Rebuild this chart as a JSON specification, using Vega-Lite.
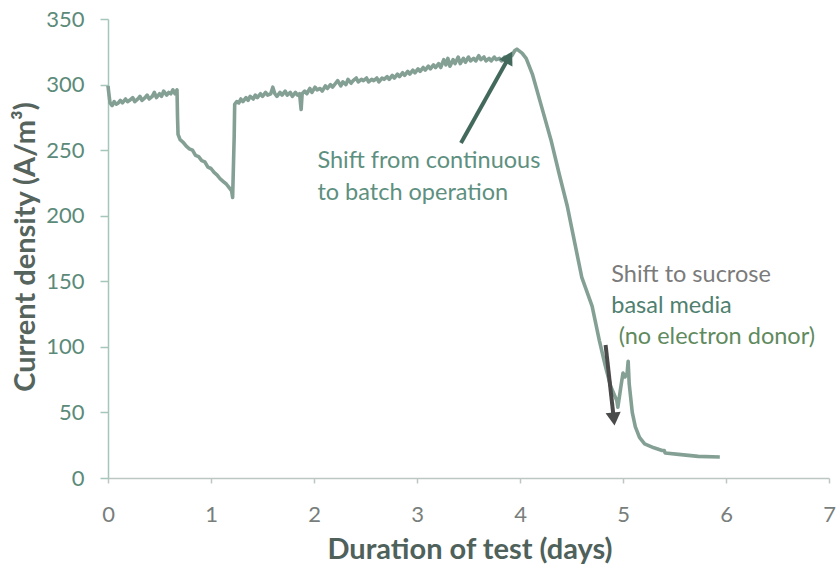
{
  "$schema": "https://vega.github.io/schema/vega-lite/v6.json",
  "width": 721,
  "height": 459,
  "autosize": {"type": "none"},
  "padding": {"left": 108, "top": 19, "right": 7, "bottom": 87},
  "background": "white",
  "config": {"view": {"stroke": null}, "font": "Lato"},
  "datasets": {
    "series": [
      {"day": 0, "current": 299}, {"day": 0.01, "current": 292}, {"day": 0.02, "current": 286}, {"day": 0.04, "current": 284},
      {"day": 0.06, "current": 287}, {"day": 0.08, "current": 285}, {"day": 0.10, "current": 286}, {"day": 0.12, "current": 288},
      {"day": 0.14, "current": 286}, {"day": 0.17, "current": 289}, {"day": 0.19, "current": 287}, {"day": 0.21, "current": 288},
      {"day": 0.24, "current": 290}, {"day": 0.26, "current": 287}, {"day": 0.29, "current": 289}, {"day": 0.31, "current": 291},
      {"day": 0.33, "current": 288}, {"day": 0.36, "current": 290}, {"day": 0.38, "current": 292}, {"day": 0.40, "current": 289},
      {"day": 0.43, "current": 291}, {"day": 0.45, "current": 294}, {"day": 0.47, "current": 290}, {"day": 0.50, "current": 293},
      {"day": 0.52, "current": 291}, {"day": 0.54, "current": 295}, {"day": 0.57, "current": 292}, {"day": 0.59, "current": 294},
      {"day": 0.61, "current": 293}, {"day": 0.63, "current": 296}, {"day": 0.65, "current": 293}, {"day": 0.67, "current": 296},
      {"day": 0.675, "current": 275}, {"day": 0.68, "current": 262}, {"day": 0.70, "current": 258},
      {"day": 0.73, "current": 256}, {"day": 0.76, "current": 253}, {"day": 0.79, "current": 251}, {"day": 0.82, "current": 250},
      {"day": 0.85, "current": 246}, {"day": 0.88, "current": 245}, {"day": 0.91, "current": 242}, {"day": 0.94, "current": 241},
      {"day": 0.97, "current": 237}, {"day": 1.00, "current": 236}, {"day": 1.03, "current": 233}, {"day": 1.06, "current": 231},
      {"day": 1.09, "current": 228}, {"day": 1.12, "current": 226}, {"day": 1.15, "current": 224}, {"day": 1.18, "current": 221},
      {"day": 1.20, "current": 219}, {"day": 1.21, "current": 214}, {"day": 1.225, "current": 260}, {"day": 1.23, "current": 285},
      {"day": 1.25, "current": 287}, {"day": 1.27, "current": 286}, {"day": 1.29, "current": 289}, {"day": 1.31, "current": 287},
      {"day": 1.34, "current": 290}, {"day": 1.36, "current": 288}, {"day": 1.38, "current": 291}, {"day": 1.41, "current": 289},
      {"day": 1.43, "current": 292}, {"day": 1.45, "current": 290}, {"day": 1.48, "current": 293}, {"day": 1.50, "current": 291},
      {"day": 1.53, "current": 294}, {"day": 1.55, "current": 292}, {"day": 1.58, "current": 293}, {"day": 1.60, "current": 298},
      {"day": 1.62, "current": 293}, {"day": 1.64, "current": 291}, {"day": 1.67, "current": 294}, {"day": 1.69, "current": 292},
      {"day": 1.72, "current": 295}, {"day": 1.74, "current": 292}, {"day": 1.77, "current": 294}, {"day": 1.79, "current": 291},
      {"day": 1.82, "current": 294}, {"day": 1.84, "current": 292}, {"day": 1.86, "current": 293}, {"day": 1.875, "current": 281},
      {"day": 1.885, "current": 293}, {"day": 1.91, "current": 295}, {"day": 1.93, "current": 293}, {"day": 1.96, "current": 297},
      {"day": 1.98, "current": 294}, {"day": 2.01, "current": 298}, {"day": 2.03, "current": 296}, {"day": 2.06, "current": 297},
      {"day": 2.08, "current": 295}, {"day": 2.11, "current": 299}, {"day": 2.13, "current": 297}, {"day": 2.16, "current": 300},
      {"day": 2.18, "current": 298}, {"day": 2.21, "current": 301}, {"day": 2.23, "current": 303}, {"day": 2.26, "current": 299},
      {"day": 2.28, "current": 302}, {"day": 2.31, "current": 300}, {"day": 2.33, "current": 304}, {"day": 2.36, "current": 301},
      {"day": 2.38, "current": 303}, {"day": 2.41, "current": 305}, {"day": 2.43, "current": 302}, {"day": 2.46, "current": 304},
      {"day": 2.48, "current": 303}, {"day": 2.51, "current": 305}, {"day": 2.53, "current": 302}, {"day": 2.56, "current": 304},
      {"day": 2.58, "current": 303}, {"day": 2.61, "current": 305}, {"day": 2.63, "current": 302}, {"day": 2.66, "current": 305},
      {"day": 2.68, "current": 304}, {"day": 2.71, "current": 306}, {"day": 2.73, "current": 304}, {"day": 2.76, "current": 307},
      {"day": 2.78, "current": 305}, {"day": 2.81, "current": 308}, {"day": 2.83, "current": 306}, {"day": 2.86, "current": 309},
      {"day": 2.88, "current": 307}, {"day": 2.91, "current": 310}, {"day": 2.93, "current": 308}, {"day": 2.96, "current": 311},
      {"day": 2.98, "current": 309}, {"day": 3.01, "current": 312}, {"day": 3.03, "current": 310}, {"day": 3.06, "current": 313},
      {"day": 3.08, "current": 311}, {"day": 3.11, "current": 314}, {"day": 3.13, "current": 312}, {"day": 3.16, "current": 315},
      {"day": 3.18, "current": 313}, {"day": 3.21, "current": 316}, {"day": 3.23, "current": 313}, {"day": 3.26, "current": 319},
      {"day": 3.28, "current": 315}, {"day": 3.30, "current": 320}, {"day": 3.32, "current": 314}, {"day": 3.35, "current": 319},
      {"day": 3.37, "current": 316}, {"day": 3.40, "current": 321}, {"day": 3.42, "current": 316}, {"day": 3.45, "current": 320},
      {"day": 3.47, "current": 317}, {"day": 3.50, "current": 321}, {"day": 3.52, "current": 318}, {"day": 3.55, "current": 320},
      {"day": 3.57, "current": 318}, {"day": 3.60, "current": 322}, {"day": 3.62, "current": 319}, {"day": 3.65, "current": 321},
      {"day": 3.67, "current": 318}, {"day": 3.70, "current": 320}, {"day": 3.72, "current": 318}, {"day": 3.75, "current": 321},
      {"day": 3.77, "current": 319}, {"day": 3.80, "current": 320}, {"day": 3.82, "current": 318}, {"day": 3.85, "current": 321},
      {"day": 3.87, "current": 319}, {"day": 3.90, "current": 321}, {"day": 3.92, "current": 322},
      {"day": 3.95, "current": 326}, {"day": 3.97, "current": 327}, {"day": 4.02, "current": 324}, {"day": 4.06, "current": 320},
      {"day": 4.12, "current": 308}, {"day": 4.21, "current": 283}, {"day": 4.30, "current": 258}, {"day": 4.38, "current": 232},
      {"day": 4.46, "current": 207}, {"day": 4.54, "current": 176}, {"day": 4.60, "current": 153}, {"day": 4.70, "current": 131},
      {"day": 4.77, "current": 105}, {"day": 4.83, "current": 85}, {"day": 4.88, "current": 70}, {"day": 4.94, "current": 59},
      {"day": 4.95, "current": 54}, {"day": 4.98, "current": 70}, {"day": 5.00, "current": 80}, {"day": 5.02, "current": 77},
      {"day": 5.04, "current": 80}, {"day": 5.05, "current": 89}, {"day": 5.06, "current": 72}, {"day": 5.09, "current": 50},
      {"day": 5.12, "current": 39}, {"day": 5.16, "current": 31}, {"day": 5.21, "current": 26}, {"day": 5.30, "current": 23},
      {"day": 5.38, "current": 21}, {"day": 5.40, "current": 21}, {"day": 5.41, "current": 19}, {"day": 5.54, "current": 18},
      {"day": 5.73, "current": 16.5}, {"day": 5.94, "current": 16}
    ],
    "arrows": [
      {"id": "batch", "x": 3.427, "y": 255.5, "x2": 3.893, "y2": 320.9},
      {"id": "sucrose", "x": 4.831, "y": 101.4, "x2": 4.911, "y2": 45.0}
    ],
    "notes": [
      {"x": 2.033, "y": 236.4, "text": "Shift from continuous", "line": "a1"},
      {"x": 2.033, "y": 212.0, "text": "to batch operation", "line": "a2"},
      {"x": 4.886, "y": 149.2, "text": "Shift  to sucrose", "line": "b1"},
      {"x": 4.886, "y": 125.6, "text": "basal media", "line": "b2"},
      {"x": 4.958, "y": 102.0, "text": "(no electron donor)", "line": "b3"}
    ]
  },
  "layer": [
    {
      "data": {"name": "series"},
      "mark": {"type": "line", "color": "#84a095", "strokeWidth": 3.6, "strokeJoin": "round"},
      "encoding": {
        "x": {
          "field": "day", "type": "quantitative",
          "scale": {"domain": [0, 7], "nice": false},
          "axis": {
            "values": [0, 1, 2, 3, 4, 5, 6, 7], "format": "d", "grid": false, "labelFlush": false,
            "domainColor": "#bcc6c2", "domainWidth": 1.5, "tickColor": "#bcc6c2", "tickWidth": 1.5, "tickSize": 5,
            "labelFontSize": 22, "labelColor": "#787e7c", "labelPadding": 21, "labelFont": "Lato",
            "title": "Duration of test (days)", "titleFont": "Lato", "titleFontSize": 29, "titleFontWeight": "bold",
            "titleColor": "#4f615b", "titleX": 361.5, "titleY": 71, "titleBaseline": "middle", "titleAlign": "center"
          }
        },
        "y": {
          "field": "current", "type": "quantitative",
          "scale": {"domain": [0, 350], "nice": false},
          "axis": {
            "values": [0, 50, 100, 150, 200, 250, 300, 350], "grid": false, "labelFlush": false,
            "domainColor": "#a6c6ba", "domainWidth": 1.5, "tickColor": "#a6c6ba", "tickWidth": 1.5, "tickSize": 8,
            "labelFontSize": 22, "labelColor": "#5b8a79", "labelPadding": 16, "labelFont": "Lato",
            "title": "Current density (A/m³)", "titleFont": "Lato", "titleFontSize": 29, "titleFontWeight": "bold",
            "titleColor": "#56645e", "titleX": -83, "titleY": 227.5, "titleBaseline": "middle", "titleAlign": "center", "titleAngle": -90
          }
        }
      }
    },
    {
      "data": {"name": "arrows"},
      "transform": [{"filter": "datum.id === 'batch'"}],
      "mark": {"type": "rule", "color": "#43695d", "strokeWidth": 4},
      "encoding": {
        "x": {"field": "x", "type": "quantitative"},
        "y": {"field": "y", "type": "quantitative"},
        "x2": {"field": "x2"},
        "y2": {"field": "y2"}
      }
    },
    {
      "data": {"name": "arrows"},
      "transform": [{"filter": "datum.id === 'batch'"}],
      "mark": {"type": "point", "shape": "triangle-up", "filled": true, "color": "#43695d", "opacity": 1, "size": 230, "angle": 29},
      "encoding": {
        "x": {"field": "x2", "type": "quantitative"},
        "y": {"field": "y2", "type": "quantitative"}
      }
    },
    {
      "data": {"name": "arrows"},
      "transform": [{"filter": "datum.id === 'sucrose'"}],
      "mark": {"type": "rule", "color": "#4a4a4a", "strokeWidth": 4},
      "encoding": {
        "x": {"field": "x", "type": "quantitative"},
        "y": {"field": "y", "type": "quantitative"},
        "x2": {"field": "x2"},
        "y2": {"field": "y2"}
      }
    },
    {
      "data": {"name": "arrows"},
      "transform": [{"filter": "datum.id === 'sucrose'"}],
      "mark": {"type": "point", "shape": "triangle-up", "filled": true, "color": "#4a4a4a", "opacity": 1, "size": 230, "angle": 174},
      "encoding": {
        "x": {"field": "x2", "type": "quantitative"},
        "y": {"field": "y2", "type": "quantitative"}
      }
    },
    {
      "data": {"name": "notes"},
      "mark": {"type": "text", "align": "left", "baseline": "alphabetic", "font": "Lato", "fontSize": 23.5},
      "encoding": {
        "x": {"field": "x", "type": "quantitative"},
        "y": {"field": "y", "type": "quantitative"},
        "text": {"field": "text"},
        "color": {
          "field": "line", "type": "nominal", "legend": null,
          "scale": {"domain": ["a1", "a2", "b1", "b2", "b3"], "range": ["#5e9080", "#5e9080", "#7b7b7b", "#4f8070", "#5f8a5e"]}
        }
      }
    }
  ]
}
